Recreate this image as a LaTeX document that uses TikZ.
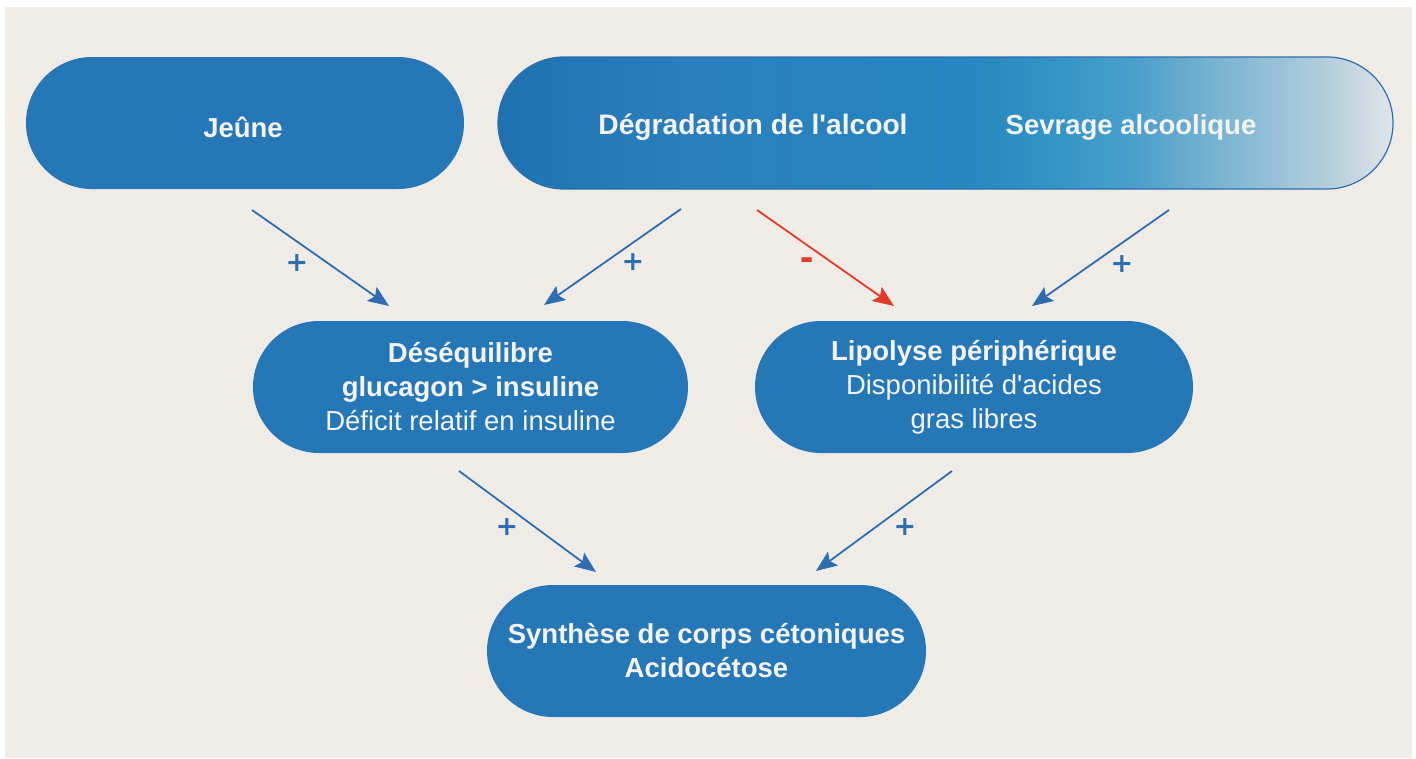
\documentclass[tikz,border=0pt]{standalone}
\usepackage{fontspec}
\setmainfont{Liberation Sans}
\newfontfamily\signfont{DejaVu Sans}
\usetikzlibrary{arrows.meta}
\definecolor{bg}{HTML}{EFECE8}
\definecolor{boxblue}{HTML}{2677B5}
\definecolor{arrblue}{HTML}{2F6DAF}
\definecolor{arrred}{HTML}{E23B2A}
\definecolor{txt}{HTML}{F3F3F3}
\definecolor{gA}{HTML}{1E72B0}
\definecolor{gB}{HTML}{2A7FBC}
\definecolor{gC}{HTML}{2586C0}
\definecolor{gD}{HTML}{3394C6}
\definecolor{gE}{HTML}{4A9FCA}
\definecolor{gF}{HTML}{80B7D3}
\definecolor{gG}{HTML}{B5CFDD}
\definecolor{gH}{HTML}{E0E5E9}
\pgfdeclarehorizontalshading{alcshade}{100bp}{color(0bp)=(gA); color(25bp)=(gA); color(36bp)=(gB); color(51bp)=(gC); color(56bp)=(gD); color(60.5bp)=(gE); color(66bp)=(gF); color(71.5bp)=(gG); color(75bp)=(gH); color(100bp)=(gH)}
\tikzset{
  pill/.style={rounded corners=66pt, fill=boxblue, minimum height=132pt, inner sep=0pt,
    text=txt, align=center, font=\fontsize{27.5}{34}\selectfont},
  lbl/.style={text=txt, font=\bfseries\fontsize{27.5}{34}\selectfont, inner sep=0pt},
  arr/.style={draw=arrblue, line width=1.8pt, -{Stealth[length=21pt,width=17pt,inset=4pt]}},
  arrneg/.style={arr, draw=arrred, -{Stealth[length=21pt,width=17pt,inset=4pt,color=arrred]}},
  plus/.style={text=arrblue, font=\signfont\bfseries\fontsize{27}{27}\selectfont, inner sep=0pt},
  minus/.style={text=arrred, font=\bfseries\fontsize{40}{40}\selectfont, inner sep=0pt}
}
\begin{document}
\begin{tikzpicture}[x=1pt,y=-1pt]
\useasboundingbox (0,0) rectangle (1416,758);
\fill[white] (0,0) rectangle (1416,758);
\fill[bg] (5,7) rectangle (1412,758);
% top row
\node[pill, minimum width=438pt] (jeune) at (245,123) {};
\node[lbl] (jtxt) at (243,127) {Je\^une};
\node[pill, minimum width=895pt, fill=none, shading=alcshade, draw=arrblue, line width=1.2pt] (alcool) at (945.5,123) {};
\node[lbl, font=\bfseries\fontsize{28.2}{34}\selectfont] (degr) at (753,127) {Dégradation de l\textquotesingle alcool};
\node[lbl] (sevr) at (1131,127) {Sevrage alcoolique};
% middle row
\node[pill, minimum width=435pt] (deseq) at (470.5,387) {\textbf{Déséquilibre}\\\textbf{glucagon > insuline}\\Déficit relatif en insuline};
\node[pill, minimum width=438pt] (lipo) at (974,387) {\textbf{Lipolyse périphérique}\\Disponibilité d\textquotesingle acides\\gras libres};
% bottom
\node[pill, minimum width=439pt] (synth) at (706.5,651) {\textbf{Synthèse de corps cétoniques}\\\textbf{Acidocétose}};
% arrow coordinates
\coordinate (a1s) at (252,210); \coordinate (a1e) at (389,306);
\coordinate (a2s) at (681,209); \coordinate (a2e) at (544,305);
\coordinate (a3s) at (757,210); \coordinate (a3e) at (894,306);
\coordinate (a4s) at (1169,210); \coordinate (a4e) at (1032,306);
\coordinate (a5s) at (459,471); \coordinate (a5e) at (596,572);
\coordinate (a6s) at (952,471); \coordinate (a6e) at (816,571);
\draw[arr] (a1s) -- (a1e);
\draw[arr] (a2s) -- (a2e);
\draw[arrneg] (a3s) -- (a3e);
\draw[arr] (a4s) -- (a4e);
\draw[arr] (a5s) -- (a5e);
\draw[arr] (a6s) -- (a6e);
\node[plus] (p1) at (297,263) {+};
\node[plus] (p2) at (633,262) {+};
\node[minus] (m3) at (807,264) {-};
\node[plus] (p4) at (1122,264) {+};
\node[plus] (p5) at (507,527) {+};
\node[plus] (p6) at (905,527) {+};
\end{tikzpicture}
\end{document}
